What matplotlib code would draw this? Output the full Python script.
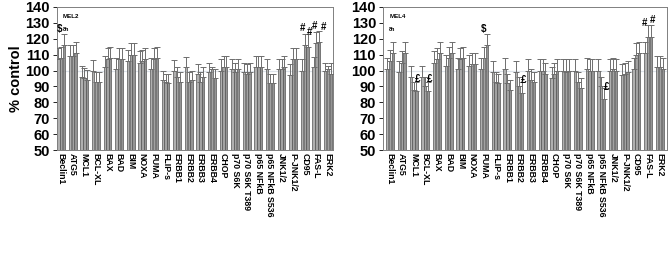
import matplotlib.pyplot as plt
import numpy as np

plt.rcParams["font.family"] = ["Liberation Sans", "DejaVu Sans"]

LABELS = [
    "Beclin1", "ATG5", "MCL1", "BCL-XL", "BAX", "BAD", "BIM", "NOXA", "PUMA",
    "FLIP-s", "ERBB1", "ERBB2", "ERBB3", "ERBB4", "CHOP", "p70 S6K",
    "p70 S6K T389", "p65 NFkB", "p65 NFkB S536", "JNK1/2", "P-JNK1/2",
    "CD95", "FAS-L", "ERK2",
]

# three bars per target: mean and top of error bar
MEL2_MEAN = [
    [107, 108, 116], [109, 109, 111], [96, 95, 94], [100, 93, 93],
    [102, 107, 108], [101, 107, 107], [106, 110, 110], [105, 106, 107],
    [101, 107, 108], [94, 93, 92], [100, 96, 93], [102, 93, 94],
    [98, 93, 96], [99, 101, 95], [100, 102, 102], [101, 99, 101],
    [99, 98, 99], [102, 102, 102], [101, 92, 92], [101, 101, 102],
    [97, 107, 107], [100, 116, 115], [102, 117, 118], [100, 101, 98],
]
MEL2_TOP = [
    [114, 115, 123], [116, 116, 118], [102.6, 101.4, 100.5], [106.5, 99, 99],
    [109, 114, 115], [108, 114, 114], [113, 117, 117], [112, 113, 114],
    [108, 114, 115], [100, 98, 98], [106.5, 102, 99], [108.5, 99, 100],
    [104, 99, 102], [105, 102, 101], [107, 109, 109], [107, 104.5, 107],
    [105, 104, 105], [109, 109, 109], [107, 97.6, 97.6], [107, 107, 109],
    [104, 114, 114], [107, 123, 123], [108.6, 124, 125], [104.7, 103, 104.7],
]
MEL4_MEAN = [
    [101, 106, 111], [99, 105, 111], [96, 88, 87], [96, 90, 87],
    [105, 107, 111], [103, 108, 111], [101, 107, 108], [103, 104, 104],
    [101, 108, 116], [99, 93, 92], [101, 92, 88], [99, 90, 86],
    [100, 94, 93], [100, 100, 98], [95, 98, 100], [100, 99, 100],
    [100, 93, 89], [101, 100, 100], [100, 90, 82], [100, 101, 100],
    [97, 98, 99], [101, 110, 111], [111, 121, 121], [102, 102, 101],
]
MEL4_TOP = [
    [108, 113, 118], [106, 112, 118], [102.6, 93, 93], [102.6, 96, 93],
    [112, 114, 118], [110, 115, 118], [108, 114, 115], [110, 111, 111],
    [108, 115, 123], [106, 99, 98], [108, 98, 94], [106, 96, 93],
    [107, 101, 99], [107, 107, 104.5], [102, 104.5, 107], [107, 107, 107],
    [107, 99, 95], [108, 107, 107], [107, 96, 89], [107, 108, 107],
    [104, 105, 106], [108, 117, 118], [118, 128.6, 128.6], [109, 109, 108],
]

# significance marks: (group, offset within group, symbol, y)
MEL2_MARKS = [(0, -0.13, "$", 126), (21, -0.19, "#", 127), (21, 0.38, "#", 124.2),
              (22, -0.13, "#", 128), (22, 0.62, "#", 127.3)]
MEL4_MARKS = [(2, 0.32, "£", 94.5), (3, 0.35, "£", 94.5), (8, 0.0, "$", 126),
              (11, 0.35, "£", 93.8), (18, 0.44, "£", 89.5),
              (22, -0.3, "#", 129.7), (22, 0.4, "#", 131.7)]

STEP = 0.24
BAR_W = 0.2
SHADES = ["#b0b0b0", "#a2a2a2", "#949494"]


def draw_panel(ax, means, tops, marks, title, xlim):
    means = np.array(means, dtype=float)
    tops = np.array(tops, dtype=float)
    x = np.arange(len(LABELS))
    ax.axhline(100, color="#dde3ea", lw=0.9, zorder=0)
    for j in range(3):
        xs = x + (j - 1) * STEP
        ax.bar(xs, means[:, j] - 50, bottom=50, width=BAR_W, color=SHADES[j],
               edgecolor="#555555", linewidth=0.5, zorder=2)
        up = tops[:, j] - means[:, j]
        ax.errorbar(xs, means[:, j], yerr=[np.zeros_like(up), up], fmt="none",
                    ecolor="#6e6e6e", elinewidth=0.7, capsize=2.2,
                    capthick=0.7, zorder=3)
    for g, dx, sym, y in marks:
        ax.text(g + dx, y, sym, ha="center", va="center",
                fontsize=7, fontweight="bold", zorder=4)
    ax.text(0.022, 0.95, title, transform=ax.transAxes, fontsize=4.5,
            fontweight="bold", va="top")
    ax.text(0.022, 0.86, "8h", transform=ax.transAxes, fontsize=4,
            fontweight="bold", va="top")
    ax.set_ylim(50, 140)
    ax.set_yticks(range(50, 141, 10))
    ax.set_xlim(*xlim)
    ax.set_xticks(x)
    ax.set_xticklabels(LABELS, rotation=270, fontsize=6.3, fontweight="bold")
    ax.tick_params(axis="x", length=0, pad=2)
    ax.tick_params(axis="y", labelsize=10.5, length=3, width=0.6, pad=2)
    for lab in ax.get_yticklabels():
        lab.set_fontweight("bold")
    for sp in ax.spines.values():
        sp.set_color("#808080")
        sp.set_linewidth(0.7)


fig = plt.figure(figsize=(6.69, 2.66), dpi=100)
ax1 = fig.add_axes([0.085, 0.436, 0.413, 0.538])
ax2 = fig.add_axes([0.5725, 0.436, 0.4245, 0.538])
draw_panel(ax1, MEL2_MEAN, MEL2_TOP, MEL2_MARKS, "MEL2", (-0.37, 23.45))
draw_panel(ax2, MEL4_MEAN, MEL4_TOP, MEL4_MARKS, "MEL4", (-0.6, 23.6))
ax1.set_ylabel("% control", fontsize=10.5, fontweight="bold", labelpad=2)

fig.savefig("out.png", dpi=100)
